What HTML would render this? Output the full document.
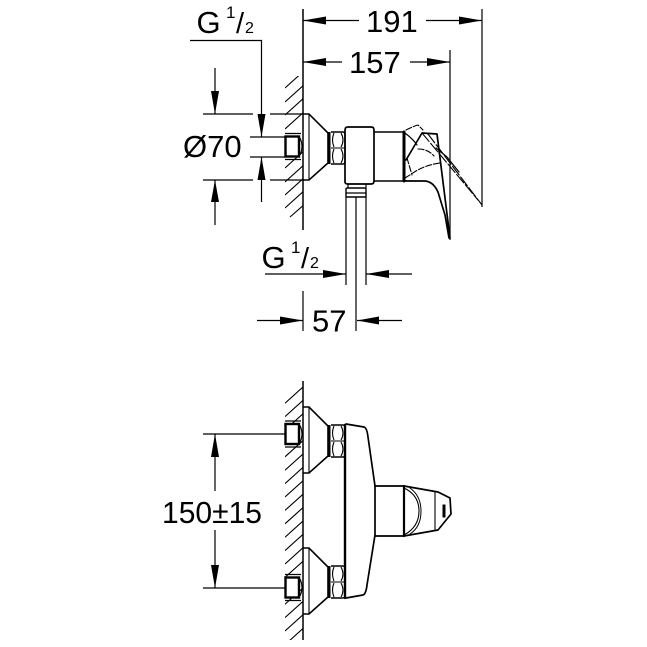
<!DOCTYPE html>
<html><head><meta charset="utf-8"><style>
html,body{margin:0;padding:0;background:#fff}
svg{display:block}
text{font-family:"Liberation Sans",sans-serif;fill:#000}
</style></head><body>
<svg width="647" height="647" viewBox="0 0 647 647" xmlns="http://www.w3.org/2000/svg">
<defs>
<clipPath id="h1"><rect x="285" y="76" width="18" height="154"/></clipPath>
<clipPath id="h2"><rect x="285" y="381" width="18" height="259"/></clipPath>
<g id="flange">
<path d="M303 0H309L328 19V49L309 66H303" fill="none" stroke="#000" stroke-width="1.6"/>
<path d="M309 0V66" fill="none" stroke="#000" stroke-width="1.1"/>
<path d="M329 18V50" stroke="#000" stroke-width="3" fill="none"/>
<path d="M331 18H343Q345 18 345 21V47Q345 50 343 50H331" fill="none" stroke="#000" stroke-width="1.4"/>
<path d="M331 34H345M334 19Q331 26 334 33M334 35Q331 42 334 49M341 19Q345 26 341 33M341 35Q345 42 341 49" fill="none" stroke="#000" stroke-width="1.1"/>
</g>
<g id="plug">
<path d="M285 -2.500H301M285 23.500H301" stroke="#000" stroke-width="1.2"/>
<rect x="285.500" y="0.500" width="13.500" height="20" fill="#fff" stroke="#000" stroke-width="2.4"/>
<path d="M300 2Q304 10.500 300 19" fill="none" stroke="#000" stroke-width="1.1"/>
</g>
</defs>
<g stroke="#000" stroke-width="1.1" fill="none" clip-path="url(#h1)">
<path d="M285 88l20-18M285 102l20-18M285 115l20-18M285 129l20-18M285 168l20-18M285 182l20-18M285 195l20-18M285 208l20-18M290 217l16-14"/>
</g>
<g stroke="#000" stroke-width="1.1" fill="none" clip-path="url(#h2)">
<path d="M285 403.200l20-18M285 416.600l20-18M285 430l20-18M285 456.800l20-18M285 470.200l20-18M285 483.600l20-18M285 497l20-18M285 510.400l20-18M285 523.800l20-18M285 537.200l20-18M285 550.600l20-18M285 564l20-18M285 577.400l20-18M285 604.200l20-18M285 617.600l20-18M285 631l20-18M288 642l20-18"/>
</g>

<!-- dimension lines -->
<g stroke="#000" stroke-width="1.2" fill="none">
<path d="M482 9V207M450 50V240"/>
<path d="M303 20.500H359M426 20.500H482M303 62H342M410 62H450"/>
<path d="M190 40.500H261.500V137M215 68V114M203 114H253M270 114H303M203 180H253M270 180H303M215 180V225M261.500 157V202M250 137H285M250 157H285"/>
<path d="M265 274H346M366 274H412M346 197V285M366 197V285M356 197V331M303 291V331M257 320.500H303M357 320.500H402"/>
<path d="M203 434H286M203 588H286M215 434V491M215 530V588"/>
</g>
<path d="M303 9V230M303 381V640" stroke="#000" stroke-width="1.5" fill="none"/>
<!-- arrowheads -->
<g fill="#000">
<path d="M303 20.500L326 16.500V24.500ZM482 20.500L459 16.500V24.500ZM303 62L326 58V66ZM450 62L427 58V66Z"/>
<path d="M215 114L211 91H219ZM215 180L211 202H219ZM261.500 137L257.500 114H265.500ZM261.500 157L257.500 180H265.500Z"/>
<path d="M346 274L323 270V278ZM366 274L389 270V278ZM303 320.500L280 316.500V324.500ZM357 320.500L379 316.500V324.500Z"/>
<path d="M215 434L211 457H219ZM215 588L211 565H219Z"/>
</g>
<!-- top view body -->
<use href="#flange" y="114"/>
<use href="#flange" y="407"/>
<use href="#flange" y="548"/>
<use href="#plug" y="136"/>
<use href="#plug" y="423.500"/>
<use href="#plug" y="577"/>
<g fill="none" stroke="#000" stroke-linejoin="round" stroke-linecap="round">
<path d="M345 182V130Q345 127 348 127H371Q374 127 374 130V181Q374 184 371 184H348Q345 184 345 182Z" stroke-width="1.700"/>
<path d="M374 132H404M374 181H404" stroke-width="1.500"/>
<path d="M404 132V181" stroke-width="3"/>
<path d="M348 184V188M366 184V188" stroke-width="1.200"/>
<path d="M346 189Q346 188 348 188H364Q366 188 366 189V197H346Z" stroke-width="1.400"/>
<path d="M346 193H366" stroke-width="1.200"/>
<path d="M404 181H424Q433 181 438 192L445 215L449 238L447 226L450 238L437 134L422 133L406 160" stroke-width="1.700"/>
<path d="M405 133Q414 140 417 145" stroke-width="1.200"/>
<path d="M406 130Q414 126 418 125L423 130M405 178L416 171Q426 165 440 163M418 149Q428 149 434 156M407 158L412 175" stroke-width="1.100" stroke-dasharray="6 2"/>
<path d="M428 134L482 205M422 133L478 200" stroke-width="1.100" stroke-dasharray="11 2.500"/>
<path d="M436 148L447 157L459 172" stroke-width="1.200"/>
<!-- front view body -->
<path d="M345 425V598" stroke-width="2.400"/>
<path d="M346 424L364 427Q367 428 368 437L375 486V535L367 585Q366 594 363 595L346 598" stroke-width="1.700"/>
<path d="M375 486H404M375 536H404" stroke-width="1.700"/>
<path d="M404 486V536" stroke-width="2.200"/>
<path d="M404 486L438 492L450 498L451 514L438 530L404 536" stroke-width="1.700"/>
<path d="M435 492V530" stroke-width="1.100"/>
<path d="M404 488Q419 495 419 511Q419 527 404 535" stroke-width="1.100"/>
<path d="M410 488Q421 496 421 511Q421 527 410 534" stroke-width="1"/>
<path d="M443 505H445V517H443Z" stroke-width="1" fill="#000"/>
</g>
<!-- labels -->
<text x="366" y="32" font-size="31">191</text>
<text x="349" y="73" font-size="31">157</text>
<text x="196.500" y="33" font-size="31">G</text>
<text x="226" y="18" font-size="17">1</text>
<text x="236" y="33" font-size="29">/</text>
<text x="245" y="33" font-size="16">2</text>
<text x="183" y="157" font-size="31">Ø70</text>
<text x="261.500" y="268" font-size="31">G</text>
<text x="291" y="253" font-size="17">1</text>
<text x="301" y="268" font-size="29">/</text>
<text x="310" y="268" font-size="16">2</text>
<text x="312" y="331.500" font-size="31">57</text>
<text x="162" y="523" font-size="31" textLength="100" lengthAdjust="spacingAndGlyphs">150±15</text>
</svg>
</body></html>
